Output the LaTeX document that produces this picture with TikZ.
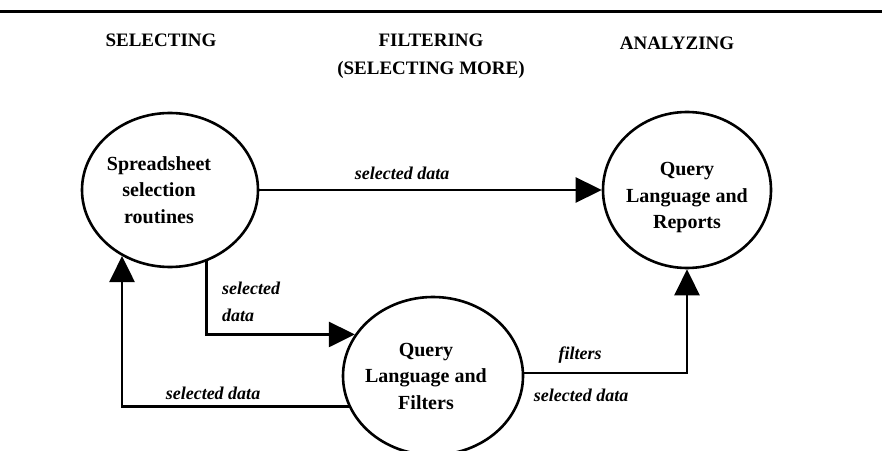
\documentclass[tikz,border=0pt]{standalone}
\usepackage{fontspec}
\setmainfont{Liberation Serif}
\usetikzlibrary{arrows.meta,shapes.geometric}
\begin{document}
\begin{tikzpicture}[x=1pt,y=1pt,
  proc/.style={ellipse, draw, line width=2.6pt, inner sep=0pt},
  txt/.style={align=center, inner sep=0pt, font=\fontsize{20}{26.5}\selectfont\bfseries},
  head/.style={align=center, inner sep=0pt, font=\fontsize{19}{28}\selectfont\bfseries},
  lab/.style={inner sep=0pt, font=\fontsize{18}{27}\selectfont\bfseries\itshape},
  conn/.style={line width=2.6pt, -{Triangle[length=26pt,width=25pt]}}
]
\useasboundingbox (0,0) rectangle (882,450);
\coordinate (rl) at (0,438);
\coordinate (rr) at (882,438);
\draw[line width=3pt] (rl) -- (rr);

\node[head] (h1) at (161,410) {SELECTING};
\node[head] (h2) at (431,394) {FILTERING\\(SELECTING MORE)};
\node[head] (h3) at (677,407) {ANALYZING};

\node[proc, minimum width=176pt, minimum height=154pt,
  label={[txt,xshift=-11pt]center:Spreadsheet\\selection\\routines}] (ss) at (170,260) {};
\node[proc, minimum width=168pt, minimum height=156pt,
  label={[txt,yshift=-8pt]center:Query\\Language and\\Reports}] (qr) at (687,260) {};
\node[proc, minimum width=180pt, minimum height=158pt,
  label={[txt,xshift=-7pt]center:Query\\Language and\\Filters}] (qf) at (433,74) {};

\draw[conn] (ss.east) -- (qr.west);
\draw[conn] (ss.-63.7) |- (qf.152);
\draw[conn] (qf.200.5) -| (ss.234.1);
\draw[conn] (qf.2) -| (qr.south);

\node[lab] (l1) at (402,277) {selected data};
\node[lab, align=left, anchor=west] (l2) at (222,148.5) {selected\\data};
\node[lab] (l3) at (213,57) {selected data};
\node[lab] (l4) at (580,95) {filters};
\node[lab] (l5) at (581,55) {selected data};
\end{tikzpicture}
\end{document}
